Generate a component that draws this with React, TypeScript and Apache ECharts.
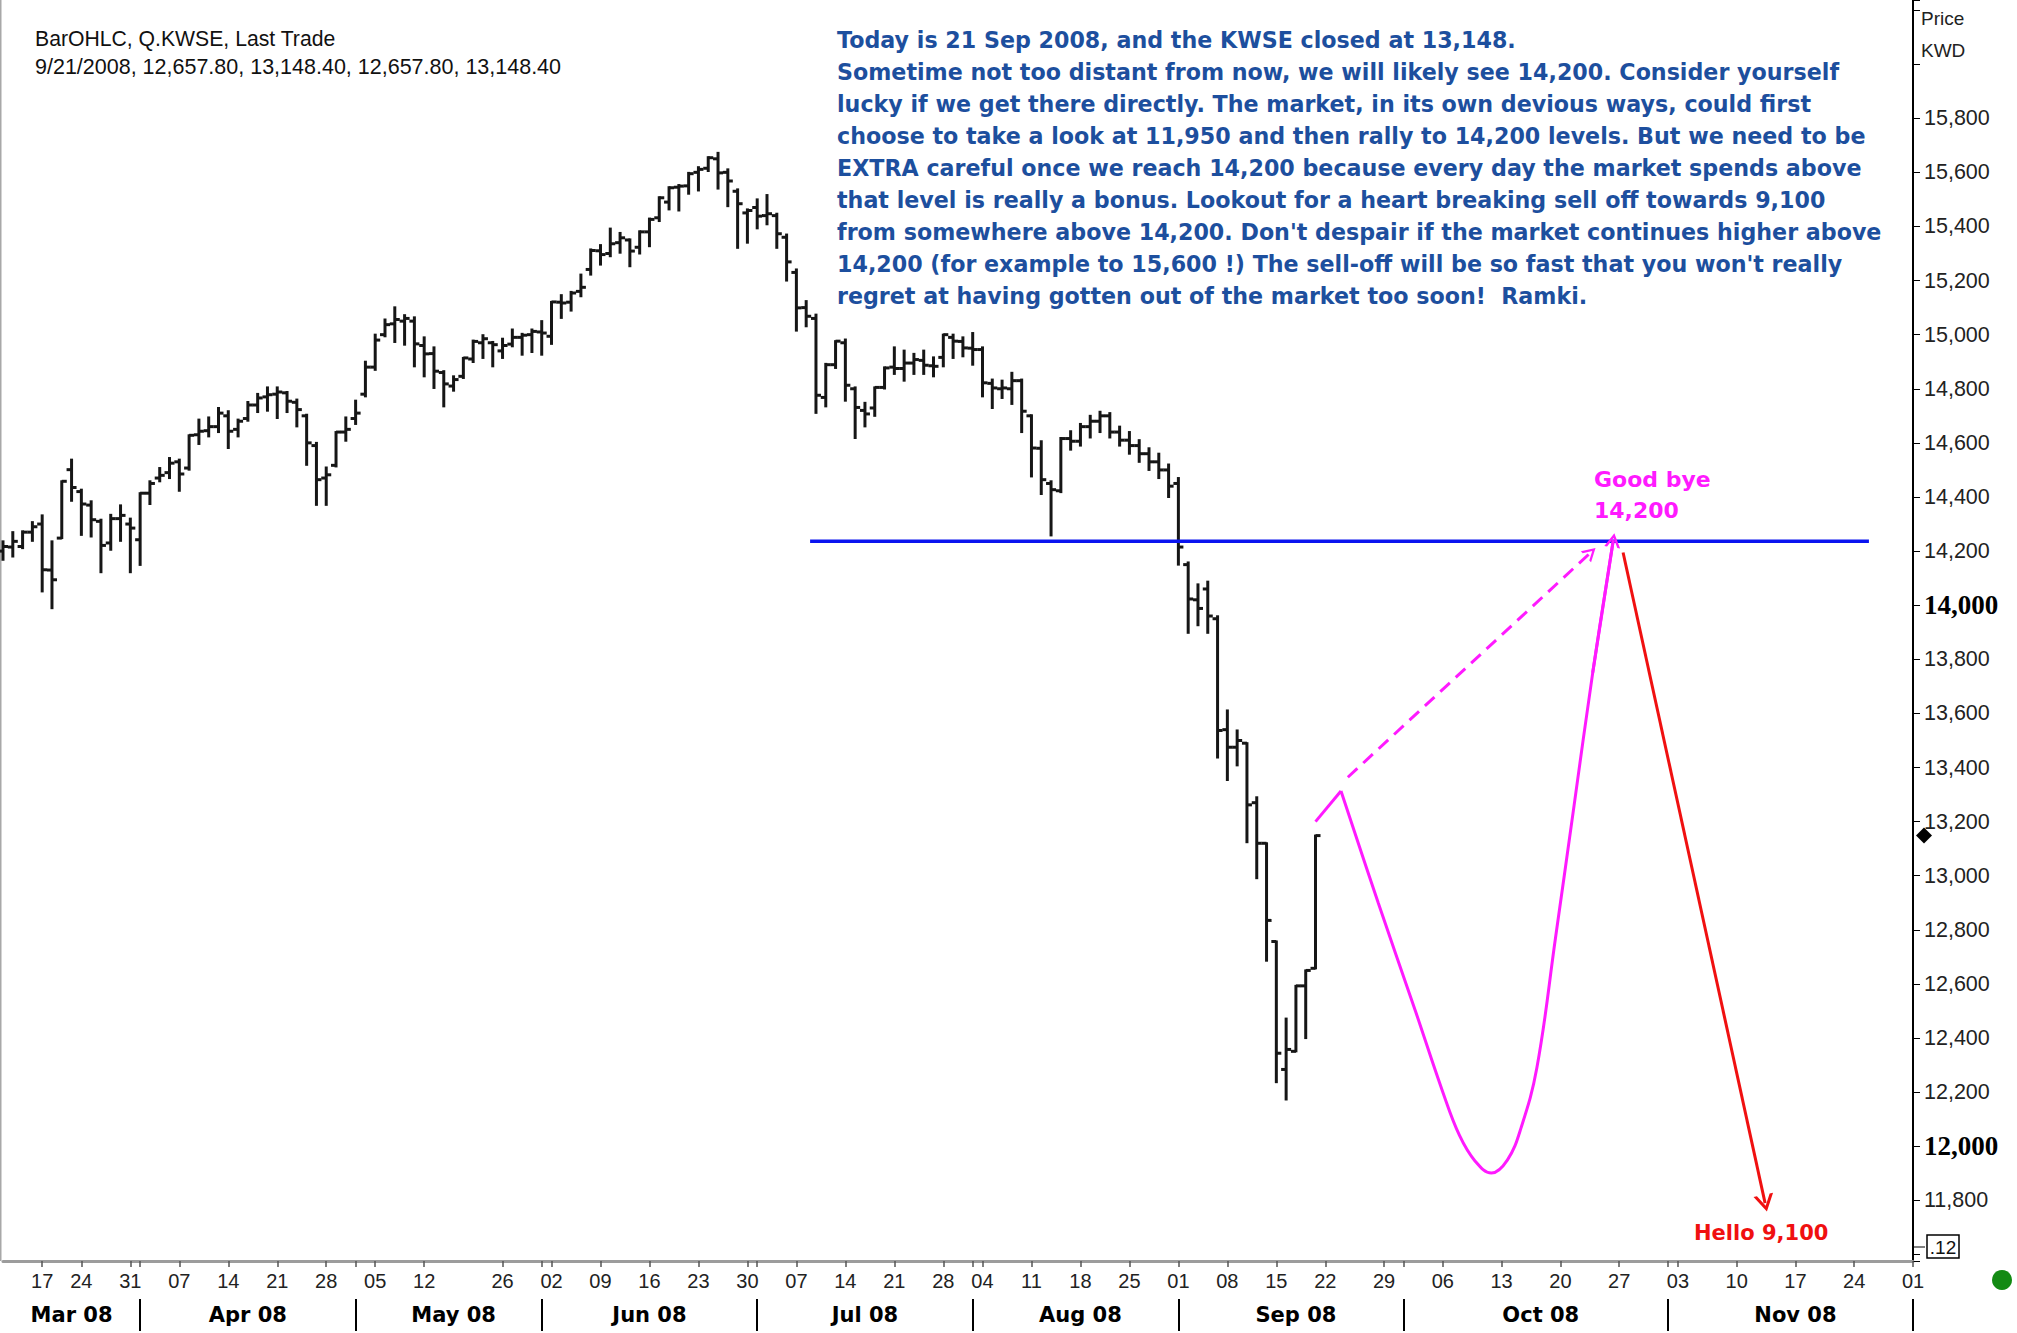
import React, { useEffect, useRef } from 'react';
import * as echarts from 'echarts';

// ---------- categories: trading days (history, Sun–Thu) and projected days (Mon–Sat) ----------
const HIST_MONTHS: [number, number[]][] = [
  [3, [11, 12, 13, 16, 17, 18, 19, 23, 24, 25, 26, 27, 30, 31]],
  [4, [1, 2, 3, 6, 7, 8, 9, 10, 13, 14, 15, 16, 17, 20, 21, 22, 23, 24, 27, 28, 29, 30]],
  [5, [1, 4, 5, 6, 7, 8, 11, 12, 13, 14, 15, 20, 21, 22, 25, 26, 27, 28, 29]],
  [6, [1, 2, 3, 4, 5, 8, 9, 10, 11, 12, 15, 16, 17, 18, 19, 22, 23, 24, 25, 26, 29, 30]],
  [7, [1, 2, 3, 6, 7, 8, 9, 10, 13, 14, 15, 16, 17, 20, 21, 22, 23, 24, 27, 28, 29, 30]],
  [8, [3, 4, 5, 6, 7, 10, 11, 12, 13, 14, 17, 18, 19, 20, 21, 24, 25, 26, 27, 28, 31]],
  [9, [1, 2, 3, 4, 7, 8, 9, 10, 11, 14, 15, 16, 17, 18, 21]],
];
const FUTURE_MONTHS: [number, number[]][] = [
  [9, [22, 23, 24, 25, 26, 27, 29, 30]],
  [10, [1, 2, 3, 4, 6, 7, 8, 9, 10, 11, 13, 14, 15, 16, 17, 18, 20, 21, 22, 23, 24, 25, 27, 28, 29, 30, 31]],
  [11, [1, 3, 4, 5, 6, 7, 8, 10, 11, 12, 13, 14, 15, 17, 18, 19, 20, 21, 22, 24, 25, 26, 27, 28, 29]],
  [12, [1]],
];
const MONTH_NAMES = ['Jan', 'Feb', 'Mar', 'Apr', 'May', 'Jun', 'Jul', 'Aug', 'Sep', 'Oct', 'Nov', 'Dec'];

// ---------- OHLC values (KWSE) ----------
const OPEN = [
  14200, 14215, 14217, 14270, 14300, 14130, 14248, 14501, 14420, 14370, 14310, 14230, 14320, 14300,
  14242, 14414, 14470, 14490, 14530, 14507, 14630, 14645, 14660, 14700, 14650, 14690, 14740, 14770,
  14780, 14785, 14750, 14700, 14590, 14470, 14517, 14640, 14690, 14780, 14880, 15000, 15040, 15050,
  15050, 14960, 14930, 14860, 14810, 14846, 14910, 14970, 14970, 14940, 14965, 14990, 15000, 15010,
  14994, 15120, 15120, 15160, 15241, 15310, 15300, 15340, 15350, 15323, 15380, 15432, 15490, 15545,
  15550, 15600, 15615, 15650, 15600, 15530, 15450, 15470, 15440, 15440, 15360, 15230, 15100, 15060,
  14768, 14889, 14970, 14800, 14720, 14729, 14805, 14880, 14875, 14895, 14905, 14885, 14916, 14990,
  14975, 14950, 14945, 14820, 14800, 14800, 14830, 14700, 14580, 14450, 14423, 14616, 14606, 14660,
  14680, 14700, 14640, 14610, 14590, 14560, 14530, 14500, 14450, 14150, 14020, 14060, 13950, 13540,
  13475, 13490, 13270, 13120, 12757, 12284, 12351, 12593, 12657.8,
];
const HIGH = [
  14236, 14270, 14273, 14307, 14332, 14236, 14458, 14538, 14427, 14384, 14316, 14334, 14369, 14320,
  14414, 14458, 14507, 14544, 14538, 14628, 14686, 14694, 14729, 14717, 14686, 14751, 14781, 14805,
  14805, 14788, 14760, 14704, 14600, 14509, 14640, 14694, 14756, 14900, 15000, 15056, 15101, 15072,
  15064, 14990, 14953, 14865, 14846, 14914, 14978, 14998, 14973, 14985, 15019, 15003, 15019, 15050,
  15121, 15146, 15158, 15222, 15315, 15331, 15392, 15376, 15352, 15382, 15429, 15508, 15545, 15553,
  15598, 15619, 15656, 15672, 15611, 15537, 15463, 15500, 15516, 15447, 15370, 15241, 15124, 15074,
  14892, 14976, 14982, 14805, 14748, 14805, 14879, 14953, 14941, 14929, 14941, 14916, 15000, 15000,
  14990, 15006, 14953, 14834, 14830, 14859, 14834, 14702, 14606, 14458, 14618, 14643, 14670, 14700,
  14715, 14710, 14660, 14640, 14610, 14580, 14560, 14520, 14470, 14158, 14077, 14087, 13959, 13611,
  13537, 13490, 13290, 13120, 12757, 12472, 12593, 12650, 13148.4,
];
const LOW = [
  14168, 14180, 14211, 14238, 14051, 13989, 14248, 14386, 14260, 14254, 14122, 14205, 14238, 14122,
  14149, 14374, 14458, 14470, 14423, 14501, 14596, 14624, 14640, 14581, 14624, 14682, 14714, 14719,
  14692, 14714, 14661, 14519, 14371, 14371, 14513, 14608, 14670, 14772, 14870, 14994, 14973, 14963,
  14883, 14846, 14803, 14735, 14793, 14840, 14899, 14914, 14883, 14914, 14957, 14926, 14936, 14926,
  14966, 15062, 15089, 15142, 15222, 15259, 15290, 15303, 15253, 15300, 15327, 15420, 15463, 15459,
  15521, 15533, 15605, 15540, 15475, 15321, 15340, 15393, 15408, 15321, 15200, 15015, 15031, 14711,
  14735, 14877, 14756, 14618, 14661, 14700, 14801, 14855, 14830, 14855, 14855, 14846, 14883, 14914,
  14920, 14889, 14772, 14729, 14766, 14744, 14640, 14476, 14411, 14258, 14418, 14575, 14590, 14620,
  14640, 14620, 14590, 14560, 14530, 14500, 14470, 14400, 14150, 13898, 13926, 13898, 13437, 13354,
  13408, 13124, 12991, 12686, 12237, 12173, 12351, 12400, 12657.8,
];
const CLOSE = [
  14217, 14236, 14270, 14290, 14131, 14094, 14458, 14435, 14374, 14316, 14221, 14320, 14332, 14285,
  14414, 14450, 14480, 14525, 14485, 14628, 14643, 14660, 14710, 14643, 14680, 14740, 14766, 14778,
  14788, 14754, 14723, 14600, 14464, 14482, 14640, 14650, 14710, 14880, 14980, 15037, 15056, 15060,
  14966, 14929, 14865, 14818, 14834, 14914, 14975, 14985, 14963, 14960, 14990, 14998, 15012, 15006,
  15121, 15117, 15154, 15175, 15311, 15296, 15336, 15358, 15309, 15380, 15426, 15506, 15543, 15549,
  15595, 15611, 15654, 15598, 15568, 15484, 15459, 15438, 15447, 15373, 15269, 15099, 15068, 14776,
  14889, 14976, 14813, 14731, 14707, 14805, 14877, 14875, 14895, 14908, 14887, 14883, 15000, 14976,
  14951, 14945, 14822, 14803, 14803, 14830, 14717, 14581, 14464, 14427, 14616, 14606, 14660, 14680,
  14700, 14640, 14610, 14590, 14560, 14530, 14500, 14440, 14215, 14023, 13988, 13960, 13537, 13475,
  13500, 13262, 13120, 12835, 12344, 12358, 12593, 12650, 13148.4,
];

// ---------- annotation drawings (x in trading-slot units, y in index points) ----------
const RESISTANCE_LINE: [number, number][] = [[82.4, 14236], [190.5, 14236]];
const PATH_START: [number, number][] = [[134, 13200], [136.6, 13313]];
const PATH_CURVE: [number, number][] = [
  [136.6, 13313], [140.4, 12900], [144.2, 12500], [147.0, 12200], [148.7, 12040], [150.3, 11945],
  [151.95, 11901], [153.6, 11950], [155.0, 12070], [156.6, 12290], [158.5, 12770], [160.4, 13260],
  [162.3, 13750], [164.4, 14240],
];
const PATH_TIP: [number, number][] = [[162.3, 13750], [164.4, 14240]];
const DIRECT_RALLY: [number, number][] = [[137.3, 13364], [162.1, 14195]];
const SELL_OFF: [number, number][] = [[165.4, 14195], [179.9, 11790]];

const TITLE_LINES = ['BarOHLC, Q.KWSE, Last Trade', '9/21/2008, 12,657.80, 13,148.40, 12,657.80, 13,148.40'];
const COMMENTARY = [
  'Today is 21 Sep 2008, and the KWSE closed at 13,148.',
  'Sometime not too distant from now, we will likely see 14,200. Consider yourself',
  'lucky if we get there directly. The market, in its own devious ways, could first',
  'choose to take a look at 11,950 and then rally to 14,200 levels. But we need to be',
  'EXTRA careful once we reach 14,200 because every day the market spends above',
  'that level is really a bonus. Lookout for a heart breaking sell off towards 9,100',
  "from somewhere above 14,200. Don't despair if the market continues higher above",
  "14,200 (for example to 15,600 !) The sell-off will be so fast that you won't really",
  'regret at having gotten out of the market too soon!  Ramki.',
];

const pad = (n: number) => (n < 10 ? '0' + n : String(n));
const CATEGORIES: string[] = [];
[...HIST_MONTHS, ...FUTURE_MONTHS].forEach(([m, days]) =>
  days.forEach((d) => CATEGORIES.push(`2008-${pad(m)}-${pad(d)}`))
);
const dow = (s: string) => new Date(s + 'T00:00:00Z').getUTCDay();
const MONDAYS = new Set<number>();
const MONTH_STARTS = new Set<number>();
const MONTH_MIDS = new Set<number>();
{
  const groups: Record<string, number[]> = {};
  CATEGORIES.forEach((c, i) => {
    if (dow(c) === 1) MONDAYS.add(i);
    const k = c.slice(0, 7);
    (groups[k] = groups[k] || []).push(i);
  });
  Object.values(groups).forEach((idx) => {
    if (idx[0] !== 0) MONTH_STARTS.add(idx[0]);
    if (idx.length >= 3) MONTH_MIDS.add(Math.round((idx[0] + idx[idx.length - 1] + 1) / 2));
  });
}

const SANS = "'DejaVu Sans', 'Liberation Sans', sans-serif";
const ARIAL = "'Liberation Sans', Arial, sans-serif";
const CHEVRON = 'path://M0,14 L8,0 L16,14 L13.2,14 L8,4.8 L2.8,14 Z';

function arrowSeries(pts: [number, number][], color: string, dashed: boolean, size: number[]) {
  return {
    type: 'line',
    xAxisIndex: 2,
    yAxisIndex: 0,
    data: pts,
    symbol: 'none',
    lineStyle: { opacity: 0 },
    silent: true,
    z: 5,
    markLine: {
      silent: true,
      animation: false,
      symbol: ['none', CHEVRON],
      symbolSize: size,
      label: { show: false },
      lineStyle: { color, width: 3, type: dashed ? [13, 8] : 'solid', opacity: 1 },
      emphasis: { disabled: true },
      data: [[{ coord: pts[0] }, { coord: pts[1] }]],
    },
  };
}

export default function App() {
  const ref = useRef<HTMLDivElement>(null);
  useEffect(() => {
    if (!ref.current) return;
    const chart = echarts.init(ref.current, undefined, { renderer: 'svg' });
    const ohlc = OPEN.map((o, i) => [i, o, HIGH[i], LOW[i], CLOSE[i]]);
    const option: any = {
      animation: false,
      backgroundColor: '#ffffff',
      grid: { left: 3, right: 104, top: 0, bottom: 72, containLabel: false, outerBoundsMode: 'none' },
      xAxis: [
        {
          type: 'category',
          data: CATEGORIES,
          boundaryGap: false,
          axisLine: { show: true, lineStyle: { color: '#9c9c9c', width: 3 } },
          axisTick: {
            show: true,
            interval: (i: number) => MONDAYS.has(i) || MONTH_STARTS.has(i),
            length: 6,
            lineStyle: { color: '#555', width: 1.5 },
          },
          axisLabel: {
            interval: (i: number) => MONDAYS.has(i),
            formatter: (v: string) => v.slice(8),
            margin: 10,
            fontFamily: ARIAL,
            fontSize: 20,
            color: '#222',
          },
          splitLine: { show: false },
        },
        {
          type: 'category',
          data: CATEGORIES,
          boundaryGap: false,
          position: 'bottom',
          offset: 38,
          axisLine: { show: false },
          axisTick: {
            show: true,
            interval: (i: number) => MONTH_STARTS.has(i),
            length: 32,
            lineStyle: { color: '#000', width: 2 },
          },
          axisLabel: {
            interval: (i: number) => MONTH_MIDS.has(i),
            formatter: (v: string) => MONTH_NAMES[Number(v.slice(5, 7)) - 1] + ' 08',
            margin: 5,
            fontFamily: SANS,
            fontWeight: 'bold',
            fontSize: 21,
            color: '#000',
          },
          splitLine: { show: false },
        },
        { type: 'value', min: 0, max: CATEGORIES.length - 1, show: false },
      ],
      yAxis: {
        type: 'value',
        position: 'right',
        min: 11576,
        max: 16237,
        splitNumber: 23,
        minInterval: 200,
        maxInterval: 200,
        scale: true,
        axisLine: { show: true, onZero: false, lineStyle: { color: '#000', width: 2 } },
        axisTick: { show: true, length: 7, lineStyle: { color: '#000', width: 1 } },
        splitLine: { show: false },
        axisLabel: {
          margin: 11,
          fontFamily: ARIAL,
          fontSize: 21.5,
          color: '#222',
          formatter: (v: number) => {
            if (Math.abs(v % 200) > 0.5 || v < 11700 || v > 15900) return '';
            const s = v.toLocaleString('en-US');
            return v % 2000 === 0 ? `{b|${s}}` : s;
          },
          rich: {
            b: { fontFamily: "'Liberation Serif', 'DejaVu Serif', serif", fontWeight: 'bold', fontSize: 27, color: '#000' },
          },
        },
      },
      series: [
        {
          type: 'custom',
          name: 'KWSE',
          xAxisIndex: 0,
          yAxisIndex: 0,
          data: ohlc,
          encode: { x: 0, y: [1, 2, 3, 4] },
          silent: true,
          z: 2,
          renderItem: (_p: any, api: any) => {
            const i = api.value(0);
            const pO = api.coord([i, api.value(1)]);
            const pH = api.coord([i, api.value(2)]);
            const pL = api.coord([i, api.value(3)]);
            const pC = api.coord([i, api.value(4)]);
            const x = pH[0];
            const st = { stroke: '#161616', lineWidth: 3 };
            return {
              type: 'group',
              children: [
                { type: 'line', shape: { x1: x, y1: pH[1] - 1, x2: x, y2: pL[1] + 1 }, style: st },
                { type: 'line', shape: { x1: x - 5, y1: pO[1], x2: x, y2: pO[1] }, style: st },
                { type: 'line', shape: { x1: x, y1: pC[1], x2: x + 5, y2: pC[1] }, style: st },
              ],
            };
          },
        },
        {
          type: 'line',
          xAxisIndex: 2,
          data: RESISTANCE_LINE,
          symbol: 'none',
          silent: true,
          z: 4,
          lineStyle: { color: '#0a14f0', width: 3.5 },
        },
        {
          type: 'line',
          xAxisIndex: 2,
          data: PATH_START,
          symbol: 'none',
          silent: true,
          z: 5,
          lineStyle: { color: '#ff1aff', width: 3 },
        },
        {
          type: 'line',
          xAxisIndex: 2,
          data: PATH_CURVE,
          symbol: 'none',
          smooth: 0.4,
          silent: true,
          z: 5,
          lineStyle: { color: '#ff1aff', width: 3 },
        },
        arrowSeries(PATH_TIP, '#ff1aff', false, [16, 14]),
        arrowSeries(DIRECT_RALLY, '#ff1aff', true, [15, 13]),
        arrowSeries(SELL_OFF, '#f01010', false, [20, 17]),
      ],
    };
    chart.setOption(option);

    const lastClose = CLOSE[CLOSE.length - 1];
    const yLast = chart.convertToPixel({ yAxisIndex: 0 }, lastClose) as number;
    const axisX = 1913;
    const elements: any[] = [
      { type: 'line', shape: { x1: 0.75, y1: 0, x2: 0.75, y2: 1261 }, style: { stroke: '#a8a8a8', lineWidth: 1.5 }, silent: true },
      {
        type: 'text', x: 35, y: 38, silent: true,
        style: { text: TITLE_LINES[0], fill: '#111', fontFamily: ARIAL, fontSize: 21.2, verticalAlign: 'middle', align: 'left' },
      },
      {
        type: 'text', x: 35, y: 67, silent: true,
        style: { text: TITLE_LINES[1], fill: '#111', fontFamily: ARIAL, fontSize: 21.5, verticalAlign: 'middle', align: 'left' },
      },
      {
        type: 'text', x: 837, y: 24, silent: true,
        style: {
          text: COMMENTARY.join('\n'), fill: '#1d4f9e', fontFamily: SANS, fontWeight: 'bold', fontSize: 22.2,
          lineHeight: 32, verticalAlign: 'top', align: 'left',
        },
      },
      {
        type: 'text', x: 1921, y: 18, silent: true,
        style: { text: 'Price', fill: '#222', fontFamily: ARIAL, fontSize: 19, verticalAlign: 'middle', align: 'left' },
      },
      {
        type: 'text', x: 1921, y: 50, silent: true,
        style: { text: 'KWD', fill: '#222', fontFamily: ARIAL, fontSize: 19, verticalAlign: 'middle', align: 'left' },
      },
      {
        type: 'text', x: 1594, y: 479, silent: true,
        style: { text: 'Good bye', fill: '#ff1aff', fontFamily: SANS, fontWeight: 'bold', fontSize: 22, verticalAlign: 'middle', align: 'left' },
      },
      {
        type: 'text', x: 1594, y: 510, silent: true,
        style: { text: '14,200', fill: '#ff1aff', fontFamily: SANS, fontWeight: 'bold', fontSize: 22, verticalAlign: 'middle', align: 'left' },
      },
      {
        type: 'text', x: 1694, y: 1233, silent: true,
        style: { text: 'Hello 9,100', fill: '#f01010', fontFamily: SANS, fontWeight: 'bold', fontSize: 21, verticalAlign: 'middle', align: 'left' },
      },
      {
        type: 'polygon', silent: true,
        shape: { points: [[axisX + 11, yLast - 8], [axisX + 19, yLast], [axisX + 11, yLast + 8], [axisX + 3, yLast]] },
        style: { fill: '#000' },
      },
      { type: 'line', shape: { x1: axisX, y1: 1247, x2: axisX + 12, y2: 1247 }, style: { stroke: '#000', lineWidth: 1 }, silent: true },
      {
        type: 'rect', silent: true, shape: { x: 1927, y: 1235, width: 32, height: 23 },
        style: { fill: '#fff', stroke: '#000', lineWidth: 1.5 },
      },
      {
        type: 'text', x: 1943, y: 1247, silent: true,
        style: { text: '.12', fill: '#111', fontFamily: ARIAL, fontSize: 19, verticalAlign: 'middle', align: 'center' },
      },
      { type: 'circle', silent: true, shape: { cx: 2002, cy: 1280, r: 10 }, style: { fill: '#138a13' } },
    ];
    chart.setOption({ graphic: { elements } });
    return () => chart.dispose();
  }, []);
  return (
    <div
      ref={ref}
      style={{ position: 'fixed', left: 0, top: 0, width: 2017, height: 1333, background: '#fff' }}
    />
  );
}
